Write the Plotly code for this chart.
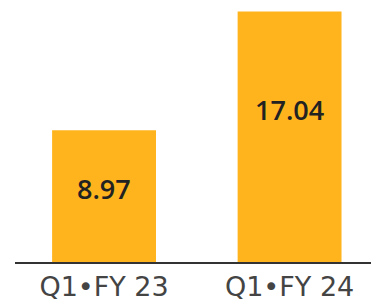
import plotly.graph_objects as go

categories = ["Q1•FY 23", "Q1•FY 24"]
values = [8.97, 17.04]
value_labels = ["8.97", "17.04"]

bar_color = "#FFB41E"
x_pos = list(range(len(categories)))

fig = go.Figure()
fig.add_trace(go.Bar(
    x=x_pos, y=values, width=0.56, marker=dict(color=bar_color, line=dict(width=0)),
    hoverinfo="skip",
))

for xi, v, t in zip(x_pos, values, value_labels):
    fig.add_annotation(x=xi, y=v * 2 / 3 - 0.96, text=t, showarrow=False,
                       font=dict(family="Open Sans", size=27, color="#222222", weight=600),
                       xanchor="center", yanchor="middle")

fig.update_layout(
    width=371, height=296,
    margin=dict(l=7, r=0, t=0, b=42, autoexpand=False),
    paper_bgcolor="white", plot_bgcolor="white",
    showlegend=False,
    xaxis=dict(range=[-0.48, 1.482], tickmode="array", tickvals=x_pos, ticktext=categories,
               showgrid=False, zeroline=False, showline=True, linecolor="#333333", linewidth=2,
               ticks="", tickfont=dict(family="DejaVu Sans", size=27, color="#444444"),
               ticklabelstandoff=0, automargin=False),
    yaxis=dict(range=[0, 17.28], visible=False, showgrid=False, zeroline=False, automargin=False),
)

fig.write_html("out.html")
